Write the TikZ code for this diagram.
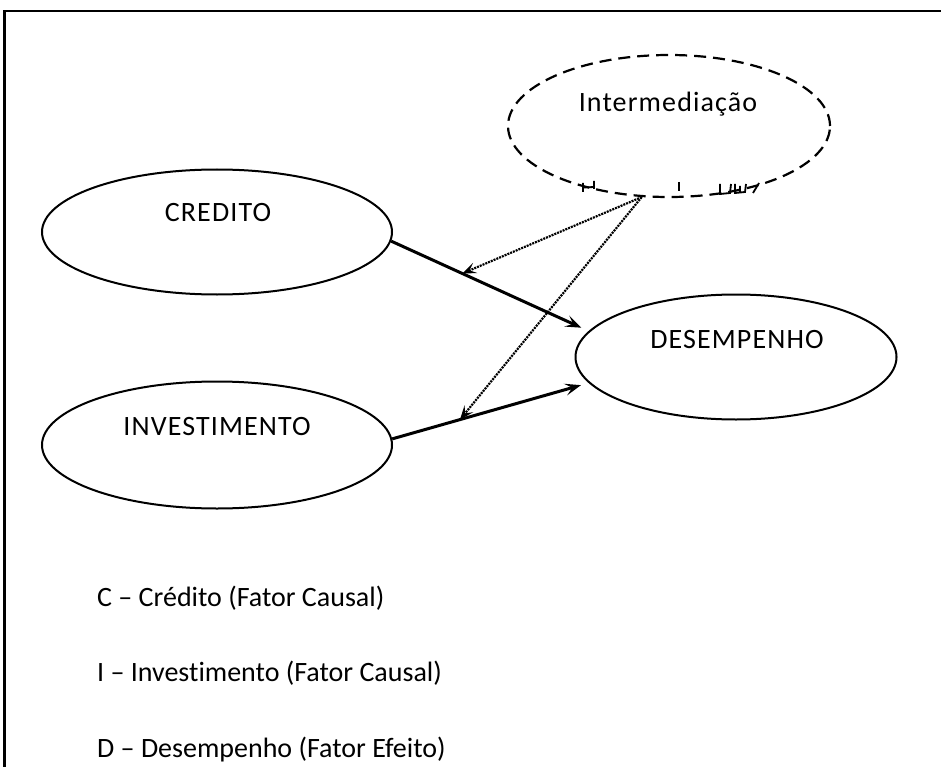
\documentclass[tikz,border=0pt]{standalone}
\usepackage{fontspec}
\setmainfont{Carlito}[Ligatures={NoCommon}]
\usetikzlibrary{shapes.geometric,arrows.meta}
\begin{document}
\begin{tikzpicture}[x=1pt,y=-1pt,
  ell/.style={draw,ellipse,line width=2pt,inner sep=0pt},
  lbl/.style={font=\fontsize{28}{33}\selectfont\addfontfeature{LetterSpace=4},inner sep=0pt,anchor=base},
  legend/.style={font=\fontsize{28}{33}\selectfont,inner sep=0pt,anchor=base west},
  causal/.style={line width=3pt,-{Stealth[length=16pt,width=12pt,inset=7pt]}},
  mediate/.style={line width=2.2pt,dash pattern=on 2pt off 1pt,-{Stealth[length=14pt,width=11pt,inset=6pt]}},
  frag/.style={line width=1.8pt}]
\useasboundingbox (0,0) rectangle (941,767);
% frame
\draw[line width=2.2pt] (4.5,767) -- (4.5,11) -- (941,11);
% ellipses
\node[ell,minimum width=350pt,minimum height=125pt] (C) at (217,232) {};
\node[lbl] (Ct) at (218,222) {CREDITO};
\node[ell,minimum width=350pt,minimum height=127pt] (I) at (217,445) {};
\node[lbl] (It) at (217,435) {INVESTIMENTO};
\node[ell,minimum width=321pt,minimum height=125pt] (D) at (736,357) {};
\node[lbl] (Dt) at (737,348) {DESEMPENHO};
\node[ell,line width=2.2pt,dash pattern=on 12pt off 7pt,minimum width=322pt,minimum height=142pt] (M) at (669,126) {};
\node[lbl] (Mt) at (668,112) {Intermediação};
% clipped text fragments below the dashed ellipse
\draw[frag] (583,183) -- (583,192) (583,187.5) -- (594,187) (594,181) -- (594,189);
\draw[frag] (679,182) -- (679,191);
\draw[frag] (720,184) -- (720,194) -- (730,193) -- (731,184);
\draw[frag] (735,184) -- (735,193) -- (745,192) -- (746,184) (740,186) -- (740,192);
\draw[frag] (753,193) -- (759,183);
% connectors
\draw[causal,shorten >=8pt] (C.-3) -- coordinate[pos=0.36] (mc) (D.170);
\draw[causal,shorten >=8pt] (I.2) -- coordinate[pos=0.345] (mi) (D.190);
\draw[mediate] (M.249) -- (mc);
\draw[mediate] (M.249) -- (mi);
% legend
\node[legend] (L1) at (97,606) {C – Crédito (Fator Causal)};
\node[legend] (L2) at (97,681) {I – Investimento (Fator Causal)};
\node[legend] (L3) at (97,757) {D – Desempenho (Fator Efeito)};
\end{tikzpicture}
\end{document}
